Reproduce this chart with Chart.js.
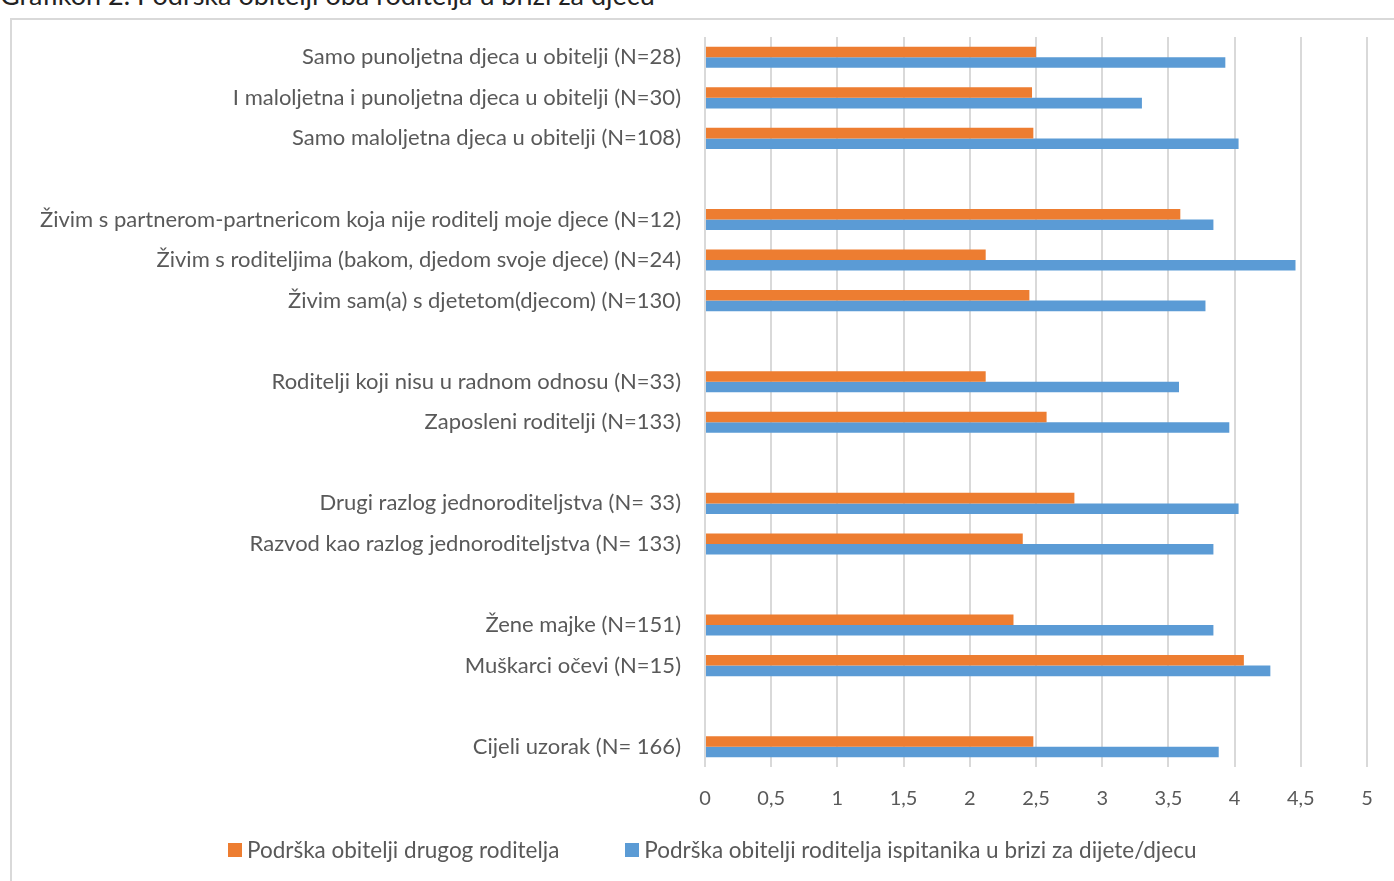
<!DOCTYPE html>
<html>
<head>
<meta charset="utf-8">
<title>Grafikon 2</title>
<script src="https://cdn.jsdelivr.net/npm/chart.js@4.4.1/dist/chart.umd.min.js"></script>
<style>
  html, body { margin: 0; padding: 0; background: #fff; overflow: hidden; }
  body { width: 1394px; height: 881px; position: relative; font-family: Lato, sans-serif; }
  #title { position: absolute; left: 0; top: -19px; font-size: 27px; line-height: 27px; color: #222; white-space: nowrap; }
  #frame { position: absolute; left: 10px; top: 18px; width: 1420px; height: 900px; border: 2px solid #d9d9d9; box-sizing: border-box; }
  #wrap { position: absolute; left: 10px; top: 0; width: 1404px; height: 881px; }
  #legend { position: absolute; left: 228px; top: 836px; display: flex; align-items: center; font-size: 22.5px; color: #595959; white-space: nowrap; }
  #legend .item { display: flex; align-items: center; }
  #legend .item:first-child { margin-right: 66px; }
  #legend .box { width: 14px; height: 14px; margin-right: 5px; }
</style>
</head>
<body>
<div id="title">Grafikon 2. Podrška obitelji oba roditelja u brizi za djecu</div>
<div id="frame"></div>
<div id="wrap"><canvas id="chart"></canvas></div>
<div id="legend"></div>
<script>
// categories top to bottom, '' = empty spacer row
const categories = [
  'Samo punoljetna djeca u obitelji (N=28)',
  'I maloljetna i punoljetna djeca u obitelji (N=30)',
  'Samo maloljetna djeca u obitelji (N=108)',
  '',
  'Živim s partnerom-partnericom koja nije roditelj moje djece (N=12)',
  'Živim s roditeljima (bakom, djedom svoje djece) (N=24)',
  'Živim sam(a) s djetetom(djecom) (N=130)',
  '',
  'Roditelji koji nisu u radnom odnosu (N=33)',
  'Zaposleni roditelji (N=133)',
  '',
  'Drugi razlog jednoroditeljstva (N= 33)',
  'Razvod kao razlog jednoroditeljstva (N= 133)',
  '',
  'Žene majke (N=151)',
  'Muškarci očevi (N=15)',
  '',
  'Cijeli uzorak (N= 166)'
];

const drugiRoditelj = [2.50, 2.47, 2.48, null, 3.59, 2.12, 2.45, null, 2.12, 2.58, null, 2.79, 2.40, null, 2.33, 4.07, null, 2.48];
const ispitanik     = [3.93, 3.30, 4.03, null, 3.84, 4.46, 3.78, null, 3.58, 3.96, null, 4.03, 3.84, null, 3.84, 4.27, null, 3.88];

const seriesNames = [
  'Podrška obitelji drugog roditelja',
  'Podrška obitelji roditelja ispitanika u brizi za dijete/djecu'
];

const xTicks = [0, 0.5, 1, 1.5, 2, 2.5, 3, 3.5, 4, 4.5, 5];

const gray = '#595959';

const chart = new Chart(document.getElementById('chart'), {
  type: 'bar',
  data: {
    labels: categories,
    datasets: [
      { label: seriesNames[0], data: drugiRoditelj, backgroundColor: '#ED7D31', categoryPercentage: 0.52, barPercentage: 1 },
      { label: seriesNames[1], data: ispitanik, backgroundColor: '#5B9BD5', categoryPercentage: 0.52, barPercentage: 1 }
    ]
  },
  options: {
    indexAxis: 'y',
    responsive: true,
    maintainAspectRatio: false,
    animation: false,
    layout: { padding: { top: 37, right: 47, bottom: 50, left: 0 } },
    plugins: {
      tooltip: { enabled: false },
      legend: { display: false }
    },
    scales: {
      x: {
        min: 0, max: 5,
        afterBuildTicks: s => { s.ticks = xTicks.map(v => ({ value: v })); },
        ticks: { color: gray, font: { family: 'Lato, sans-serif', size: 20 }, padding: 20, callback: v => String(v).replace('.', ',') },
        grid: { color: '#d9d9d9', lineWidth: 2, drawTicks: false },
        border: { display: false }
      },
      y: {
        afterFit: s => { s.width = 695; },
        ticks: { color: gray, font: { family: 'Lato, sans-serif', size: 22 }, padding: 16, autoSkip: false },
        grid: { display: false },
        border: { display: false }
      }
    }
  }
});

// legend from the chart's own datasets
document.getElementById('legend').innerHTML = chart.data.datasets.map(ds => `
  <div class="item"><span class="box" style="background:${ds.backgroundColor}"></span>${ds.label}</div>
`).join('');
</script>
</body>
</html>
